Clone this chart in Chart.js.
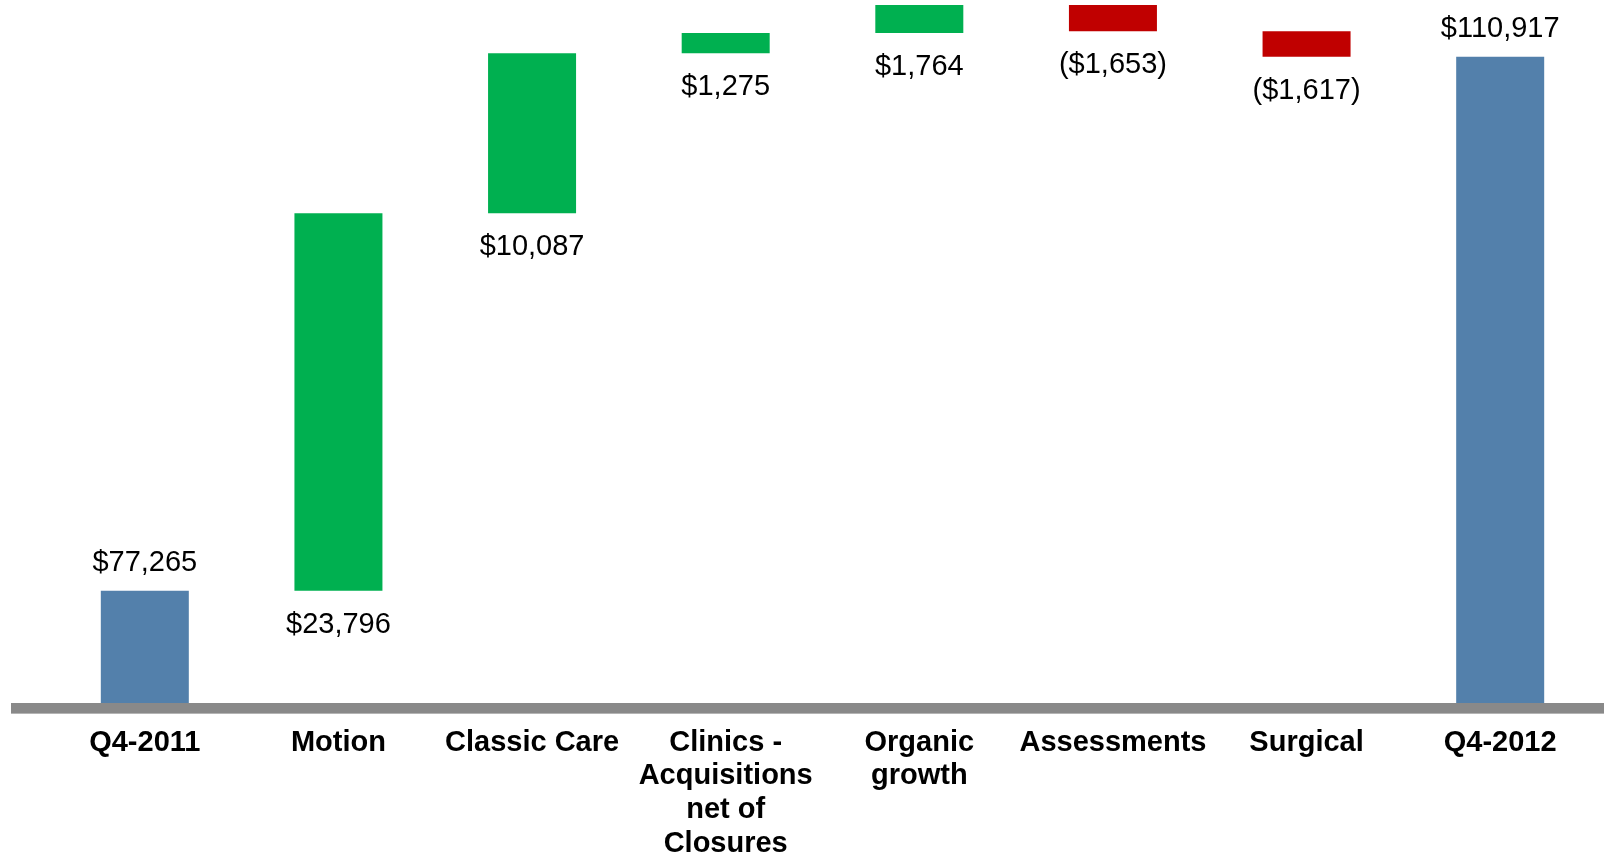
<!DOCTYPE html>
<html>
<head>
<meta charset="utf-8">
<title>Q4-2011 to Q4-2012 bridge</title>
<script src="https://cdn.jsdelivr.net/npm/chart.js@4.4.1/dist/chart.umd.min.js"></script>
<style>
  html, body { margin: 0; padding: 0; background: #fff; }
  #wrap { width: 1604px; height: 856px; position: relative; }
</style>
</head>
<body>
<div id="wrap"><canvas id="bridgeChart"></canvas></div>
<script>
// Data
const categories = [
    'Q4-2011',
    'Motion',
    'Classic Care',
    ['Clinics -', 'Acquisitions', 'net of', 'Closures'],
    ['Organic', 'growth'],
    'Assessments',
    'Surgical',
    'Q4-2012'
];
const values = [77265, 23796, 10087, 1275, 1764, -1653, -1617, 110917];
const isTotal = [true, false, false, false, false, false, false, true];
const axisMin = 70000;
const axisMax = 114500;

// build floating bars for the waterfall
let running = 0;
const ranges = values.map(function (v, i) {
    if (isTotal[i]) {
        running = v;
        return v;
    }
    const start = running;
    running += v;
    return [start, running];
});
const colors = values.map(function (v, i) {
    if (isTotal[i]) return '#5380AB';
    return v >= 0 ? '#00B050' : '#C00000';
});

function fmt(v) {
    const s = '$' + Math.abs(v).toLocaleString('en-US');
    return v < 0 ? '(' + s + ')' : s;
}

// value labels + thick gray base line
const bridgeDecor = {
    id: 'bridgeDecor',
    afterDatasetsDraw(chart) {
        const ctx = chart.ctx;
        const meta = chart.getDatasetMeta(0);
        const area = chart.chartArea;
        ctx.save();
        ctx.font = '29px "Liberation Sans", Arial, sans-serif';
        ctx.fillStyle = '#000';
        ctx.textAlign = 'center';
        ctx.textBaseline = 'middle';
        meta.data.forEach(function (bar, i) {
            const top = Math.min(bar.y, bar.base);
            const bottom = Math.max(bar.y, bar.base);
            const y = isTotal[i] ? top - 28 : bottom + 34;
            ctx.fillText(fmt(values[i]), bar.x, y);
        });
        ctx.fillStyle = '#898989';
        ctx.fillRect(11, area.bottom - 3, chart.width - 11, 10);
        ctx.fillStyle = '#b4b4b4';
        ctx.fillRect(11, area.bottom + 7, chart.width - 11, 1);
        ctx.restore();
    }
};

const ctx = document.getElementById('bridgeChart').getContext('2d');
new Chart(ctx, {
    type: 'bar',
    data: {
        labels: categories,
        datasets: [{
            data: ranges,
            backgroundColor: colors,
            borderWidth: 0,
            barPercentage: 0.4545,
            categoryPercentage: 1
        }]
    },
    options: {
        responsive: true,
        maintainAspectRatio: false,
        animation: false,
        layout: { padding: { left: 48, right: 7, top: 0, bottom: 0 } },
        plugins: {
            legend: { display: false },
            tooltip: { enabled: false }
        },
        scales: {
            x: {
                grid: { display: false },
                border: { display: false },
                ticks: {
                    autoSkip: false,
                    maxRotation: 0,
                    minRotation: 0,
                    padding: 12,
                    color: '#000',
                    font: { family: '"Liberation Sans", Arial, sans-serif', size: 29, weight: 'bold', lineHeight: 1.16 }
                },
                afterFit: function (scale) { scale.height = 150; }
            },
            y: {
                display: false,
                min: axisMin,
                max: axisMax
            }
        }
    },
    plugins: [bridgeDecor]
});
</script>
</body>
</html>
